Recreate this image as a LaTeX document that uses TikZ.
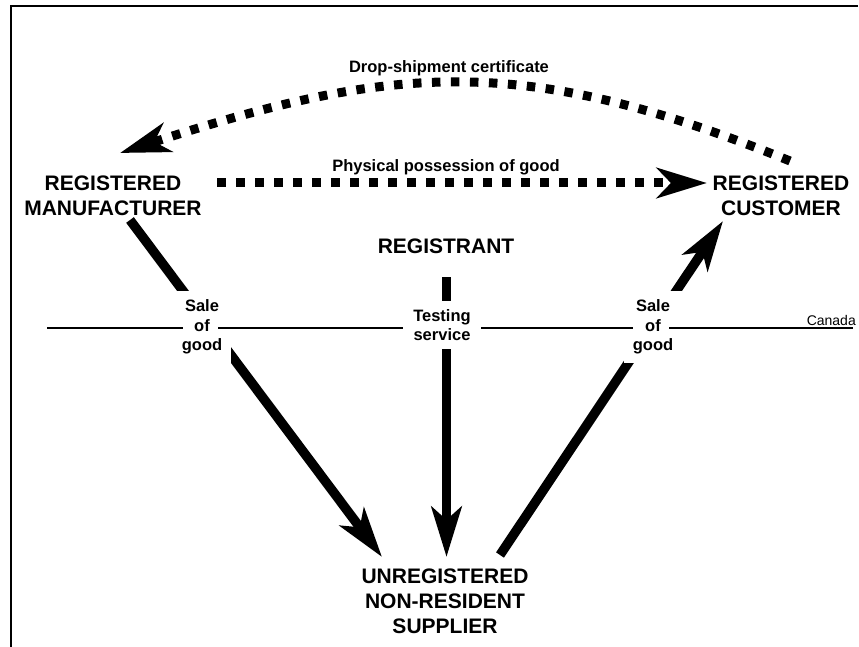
\documentclass[tikz,border=0pt]{standalone}
\usepackage{fontspec}
\setmainfont{Liberation Sans}
\usetikzlibrary{arrows.meta}
\begin{document}
\begin{tikzpicture}[x=1pt,y=-1pt,
  big/.style={font=\fontsize{21}{25}\selectfont\bfseries, align=center, inner sep=0pt},
  lbl/.style={font=\fontsize{16.5}{19.5}\selectfont\bfseries, align=center, fill=white, inner xsep=9pt, inner ysep=9pt},
  toplbl/.style={font=\fontsize{16.5}{19.5}\selectfont\bfseries, inner sep=0pt},
  solidarrow/.style={line width=9.5pt, -{Stealth[length=50pt,width=30pt,inset=13pt]}},
  dotarrow/.style={line width=9pt, dash pattern=on 8.5pt off 10.5pt, -{Stealth[length=50pt,width=30pt,inset=14pt]}},
  frame/.style={line width=2pt, line join=miter},
  border/.style={line width=1.1pt}
]
\useasboundingbox (0,0) rectangle (859,647);

% frame
\coordinate (f1) at (858,5.7);
\coordinate (f2) at (11.2,5.7);
\coordinate (f3) at (11.2,648);
\draw[frame] (f1) -- (f2) -- (f3);

% Canada border line
\coordinate (cl) at (47,328);
\coordinate (cr) at (853,328);
\draw[border] (cl) -- (cr);
\node[font=\fontsize{14}{16}\selectfont, anchor=base east, inner sep=0pt] (canada) at (856,325) {Canada};

% main nodes
\node[big] (man) at (113,196) {REGISTERED\\MANUFACTURER};
\node[big] (cust) at (781,196) {REGISTERED\\CUSTOMER};
\node[big] (reg) at (446,246) {REGISTRANT};
\node[big] (sup) at (445,601) {UNREGISTERED\\NON-RESIDENT\\SUPPLIER};

% connector end points
\coordinate (mA) at (130,220);
\coordinate (sL) at (382,557);
\coordinate (rA) at (446.5,277);
\coordinate (sC) at (446.5,557);
\coordinate (sR) at (500,555);
\coordinate (cB) at (723,221);
\coordinate (mR) at (217,183);
\coordinate (cL) at (707,183);
\coordinate (cT) at (790,161);
\coordinate (mT) at (120,153);

% solid arrows
\draw[solidarrow] (mA) -- (sL);
\draw[solidarrow] (rA) -- (sC);
\draw[solidarrow] (sR) -- (cB);

% dotted arrows
\draw[dotarrow] (mR) -- (cL);
\draw[dotarrow] (cT) .. controls (523,53) and (394,64) .. (mT);

% labels
\node[lbl] (sale1) at (202,327) {Sale\\of\\good};
\node[lbl, inner xsep=10pt, inner ysep=8pt] (test) at (442,325) {Testing\\service};
\node[lbl] (sale2) at (653,327) {Sale\\of\\good};
\node[toplbl] (drop) at (449,68) {Drop-shipment certificate};
\node[toplbl] (phys) at (446,167) {Physical possession of good};

% restore the border line up to the "of" row of the side labels
\draw[border] (sale1.west |- cl) -- ([xshift=-19pt]sale1.center |- cl);
\draw[border] ([xshift=16pt]sale1.center |- cl) -- (sale1.east |- cl);
\draw[border] (sale2.west |- cl) -- ([xshift=-20pt]sale2.center |- cl);
\draw[border] ([xshift=16pt]sale2.center |- cl) -- (sale2.east |- cl);
\end{tikzpicture}
\end{document}
